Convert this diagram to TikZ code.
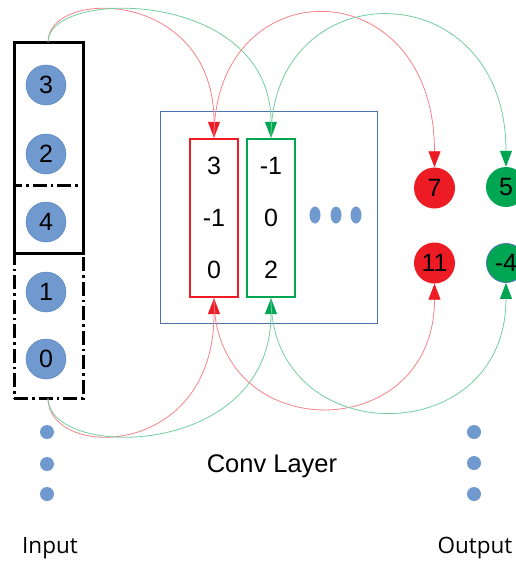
\documentclass[tikz,border=0pt]{standalone}
\usepackage{fontspec}
\setmainfont{Liberation Sans}
\newfontfamily\labfont{Open Sans}
\usetikzlibrary{arrows.meta,shapes.geometric}
\definecolor{myred}{HTML}{ED1C24}
\definecolor{mygreen}{HTML}{00A651}
\definecolor{myblue}{HTML}{6F99CF}
\definecolor{myblueb}{HTML}{5A86BF}
\definecolor{boxblue}{HTML}{4A72B0}
\tikzset{
  innode/.style={circle,fill=myblue,draw=myblueb,line width=0.5pt,minimum size=40pt,inner sep=0pt,font=\fontsize{25}{29}\selectfont},
  dotnode/.style={circle,fill=myblue,minimum size=14pt,inner sep=0pt},
  ellnode/.style={ellipse,fill=myblue,minimum width=11pt,minimum height=17pt,inner sep=0pt},
  rednode/.style={circle,fill=myred,minimum size=41pt,inner sep=0pt,font=\fontsize{25}{29}\selectfont},
  greennode/.style={circle,fill=mygreen,minimum size=40pt,inner sep=0pt,font=\fontsize{25}{29}\selectfont},
  numtext/.style={font=\fontsize{25}{29}\selectfont,inner sep=0pt},
  redarc/.style={draw=myred!55!white,line width=0.8pt,-{Triangle[length=16pt,width=12pt,color=myred]}},
  greenarc/.style={draw=mygreen!55!white,line width=0.8pt,-{Triangle[length=16pt,width=12pt,color=mygreen]}},
  lab/.style={font=\labfont\fontsize{22.5}{26}\selectfont,inner sep=0pt}
}
\begin{document}
\begin{tikzpicture}[x=1pt,y=-1pt]
\useasboundingbox (0,0) rectangle (516,562);
\begin{scope}
\clip (0,0) rectangle (516,562);
% conv layer box
\draw[boxblue,line width=0.9pt] (160,111.5) rectangle (377,323);
% filters
\node[draw=myred,line width=2.4pt,minimum width=48pt,minimum height=158pt,inner sep=0pt] (rf) at (214,218) {};
\node[draw=mygreen,line width=2.4pt,minimum width=48pt,minimum height=158pt,inner sep=0pt] (gf) at (271,218) {};
\node[numtext] (r1) at (214,166) {3};
\node[numtext] (r2) at (214,218) {-1};
\node[numtext] (r3) at (214,270) {0};
\node[numtext] (g1) at (271,166) {-1};
\node[numtext] (g2) at (271,218) {0};
\node[numtext] (g3) at (271,270) {2};
\node[ellnode] (e1) at (315,215) {};
\node[ellnode] (e2) at (336,215) {};
\node[ellnode] (e3) at (356,215) {};
% input
\node[innode] (i3) at (46,85) {3};
\node[innode] (i2) at (46,154) {2};
\node[innode] (i4) at (46,222) {4};
\node[innode] (i1) at (46,292) {1};
\node[innode] (i0) at (46,359) {0};
\node[draw,line width=3pt,minimum width=69pt,minimum height=211pt,inner sep=0pt] (w1) at (48.5,147.5) {};
\node[draw,line width=3pt,dash pattern=on 14pt off 4pt on 2.5pt off 4pt,minimum width=69pt,minimum height=213pt,inner sep=0pt] (w2) at (48.5,291.5) {};
\coordinate (wt) at (48,42);
\coordinate (wb) at (48,398);
\node[dotnode] (d1) at (47,432) {};
\node[dotnode] (d2) at (47,464) {};
\node[dotnode] (d3) at (47,494) {};
% outputs
\node[rednode] (o7) at (434.5,188) {7};
\node[greennode] (o5) at (506,187) {5};
\node[rednode] (o11) at (434.5,263) {11};
\node[greennode,draw=boxblue,line width=0.8pt,minimum size=39pt] (o4) at (506,263) {-4};
\node[dotnode] (p1) at (474,432) {};
\node[dotnode] (p2) at (474,463) {};
\node[dotnode] (p3) at (474,494) {};
% arcs
\draw[redarc] (wt) .. controls (48,-12) and (214,-12) .. (rf.north);
\draw[greenarc] (wt) .. controls (48,-12) and (271,-12) .. (gf.north);
\draw[redarc] (rf.north) .. controls (214,-33) and (434.5,-33) .. (o7.north);
\draw[greenarc] (gf.north) .. controls (271,-30) and (506,-30) .. (o5.north);
\draw[redarc] (wb) .. controls (48,460) and (214,460) .. (rf.south);
\draw[greenarc] (wb) .. controls (48,460) and (271,460) .. (gf.south);
\draw[redarc] (rf.south) .. controls (214,447) and (434.5,447) .. (o11.south);
\draw[greenarc] (gf.south) .. controls (271,452) and (506,452) .. (o4.south);
\end{scope}
% labels
\node[font=\fontsize{25.5}{29}\selectfont,inner sep=0pt] (conv) at (272,466) {Conv Layer};
\node[lab] (inl) at (50,548) {Input};
\node[lab] (outl) at (475,548) {Output};
\end{tikzpicture}
\end{document}
